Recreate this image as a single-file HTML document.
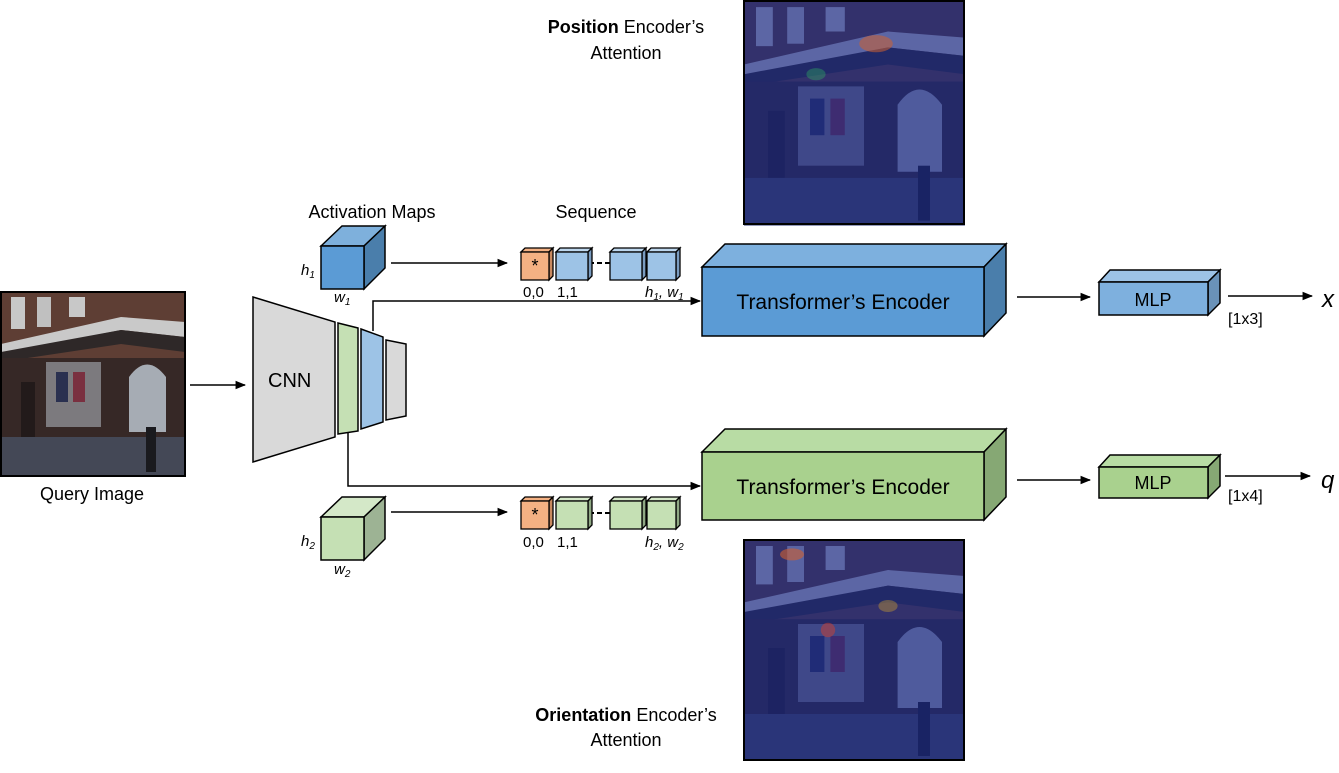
<!DOCTYPE html>
<html><head><meta charset="utf-8"><style>
html,body{margin:0;padding:0;background:#fff}
svg text{font-family:"Liberation Sans",sans-serif;}
</style></head><body>
<svg width="1339" height="768" viewBox="0 0 1339 768" xmlns="http://www.w3.org/2000/svg">
<defs>
<marker id="ah" viewBox="0 0 10 10" refX="9" refY="5" markerWidth="7" markerHeight="7" orient="auto"><path d="M0,1 L10,5 L0,9 z" fill="#000"/></marker>
<g id="shop">
<rect x="0" y="0" width="184" height="184" fill="#5e3e34"/>
<rect x="10" y="5" width="14" height="32" fill="#c8c8c8"/><rect x="36" y="5" width="14" height="30" fill="#c0c0c0"/><rect x="68" y="5" width="16" height="20" fill="#c8c8c8"/>
<polygon points="0,52 120,25 184,30 184,45 120,38 0,62" fill="#c9c9c9"/>
<polygon points="0,60 120,38 184,45 184,60 120,52 0,70" fill="#2e2828"/>
<rect x="0" y="66" width="184" height="84" fill="#362826"/>
<rect x="45" y="70" width="55" height="65" fill="#7c7a7e"/>
<rect x="55" y="80" width="12" height="30" fill="#2a3050"/><rect x="72" y="80" width="12" height="30" fill="#7a3040"/>
<path d="M128,140 L128,85 Q146,60 165,85 L165,140 z" fill="#a6acb4"/>
<rect x="20" y="90" width="14" height="55" fill="#221a1a"/>
<rect x="0" y="145" width="184" height="39" fill="#444856"/>
<rect x="145" y="135" width="10" height="45" fill="#1a1a1e"/>
</g>
</defs>

<g transform="translate(1,292)"><use href="#shop"/><rect x="0" y="0" width="184" height="184" fill="none" stroke="#000" stroke-width="2"/></g>
<text x="92" y="500" font-size="18" text-anchor="middle">Query Image</text>
<line x1="190" y1="385" x2="245" y2="385" stroke="#000" stroke-width="1.5" marker-end="url(#ah)"/>

<g transform="translate(744,1) scale(1.2,1.22)"><use href="#shop"/><rect width="184" height="184" fill="#1a2a90" opacity="0.62"/>
<ellipse cx="110" cy="35" rx="14" ry="7" fill="#d06030" opacity="0.55"/><ellipse cx="60" cy="60" rx="8" ry="5" fill="#30c060" opacity="0.35"/></g>
<rect x="744" y="1" width="220" height="223" fill="none" stroke="#000" stroke-width="2"/>
<text x="626" y="33" font-size="18" text-anchor="middle"><tspan font-weight="bold">Position</tspan> Encoder’s</text>
<text x="626" y="59" font-size="18" text-anchor="middle">Attention</text>

<g transform="translate(744,540) scale(1.2,1.2)"><use href="#shop"/><rect width="184" height="184" fill="#1a2a90" opacity="0.62"/>
<ellipse cx="40" cy="12" rx="10" ry="5" fill="#d06030" opacity="0.6"/><ellipse cx="70" cy="75" rx="6" ry="6" fill="#d04030" opacity="0.5"/><ellipse cx="120" cy="55" rx="8" ry="5" fill="#d0a030" opacity="0.4"/></g>
<rect x="744" y="540" width="220" height="220" fill="none" stroke="#000" stroke-width="2"/>
<text x="626" y="721" font-size="18" text-anchor="middle"><tspan font-weight="bold">Orientation</tspan> Encoder’s</text>
<text x="626" y="746" font-size="18" text-anchor="middle">Attention</text>

<g stroke="#000" stroke-width="1.5">
<polygon points="253,297 335,322 335,437 253,462" fill="#d9d9d9"/>
<polygon points="338,323 358,328 358,431 338,434" fill="#c5e0b4"/>
<polygon points="361,329 383,337 383,422 361,429" fill="#9dc3e6"/>
<polygon points="386,340 406,344 406,416 386,420" fill="#d9d9d9"/>
</g>
<text x="268" y="387" font-size="20">CNN</text>
<polyline points="373,331 373,301 700,301" fill="none" stroke="#000" stroke-width="1.5" marker-end="url(#ah)"/>
<polyline points="348,433 348,486 700,486" fill="none" stroke="#000" stroke-width="1.5" marker-end="url(#ah)"/>

<text x="372" y="218" font-size="18" text-anchor="middle">Activation Maps</text>
<text x="596" y="218" font-size="18" text-anchor="middle">Sequence</text>
<g stroke="#000" stroke-width="1.5">
<polygon points="321,246 342,226 385,226 364,246" fill="#7eb0dc"/>
<polygon points="364,246 385,226 385,268 364,289" fill="#4a7eab"/>
<rect x="321" y="246" width="43" height="43" fill="#5b9bd5"/>
<polygon points="321,517 342,497 385,497 364,517" fill="#d4e8c8"/>
<polygon points="364,517 385,497 385,539 364,560" fill="#9db394"/>
<rect x="321" y="517" width="43" height="43" fill="#c5e0b4"/>
</g>
<text x="301" y="275" font-size="15" font-style="italic" font-family="Liberation Serif">h<tspan font-size="10" dy="3">1</tspan></text>
<text x="334" y="302" font-size="15" font-style="italic" font-family="Liberation Serif">w<tspan font-size="10" dy="3">1</tspan></text>
<text x="301" y="546" font-size="15" font-style="italic" font-family="Liberation Serif">h<tspan font-size="10" dy="3">2</tspan></text>
<text x="334" y="574" font-size="15" font-style="italic" font-family="Liberation Serif">w<tspan font-size="10" dy="3">2</tspan></text>
<line x1="391" y1="263" x2="507" y2="263" stroke="#000" stroke-width="1.5" marker-end="url(#ah)"/>
<line x1="391" y1="512" x2="507" y2="512" stroke="#000" stroke-width="1.5" marker-end="url(#ah)"/>

<g stroke="#000" stroke-width="1.3">
<line x1="589" y1="263" x2="610" y2="263" stroke-dasharray="5,3" stroke-width="2"/>
<polygon points="521,252 525,248 553,248 549,252" fill="#f4b183"/><polygon points="549,252 553,248 553,276 549,280" fill="#c98a60"/><rect x="521" y="252" width="28" height="28" fill="#f4b183"/>
<polygon points="556,252 560,248 592,248 588,252" fill="#bdd7ee"/><polygon points="588,252 592,248 592,276 588,280" fill="#7a9cc0"/><rect x="556" y="252" width="32" height="28" fill="#9dc3e6"/>
<polygon points="610,252 614,248 646,248 642,252" fill="#bdd7ee"/><polygon points="642,252 646,248 646,276 642,280" fill="#7a9cc0"/><rect x="610" y="252" width="32" height="28" fill="#9dc3e6"/>
<polygon points="647,252 651,248 680,248 676,252" fill="#bdd7ee"/><polygon points="676,252 680,248 680,276 676,280" fill="#7a9cc0"/><rect x="647" y="252" width="29" height="28" fill="#9dc3e6"/>

<line x1="589" y1="513" x2="610" y2="513" stroke-dasharray="5,3" stroke-width="2"/>
<polygon points="521,501 525,497 553,497 549,501" fill="#f4b183"/><polygon points="549,501 553,497 553,525 549,529" fill="#c98a60"/><rect x="521" y="501" width="28" height="28" fill="#f4b183"/>
<polygon points="556,501 560,497 592,497 588,501" fill="#d4e8c8"/><polygon points="588,501 592,497 592,525 588,529" fill="#8fa884"/><rect x="556" y="501" width="32" height="28" fill="#c5e0b4"/>
<polygon points="610,501 614,497 646,497 642,501" fill="#d4e8c8"/><polygon points="642,501 646,497 646,525 642,529" fill="#8fa884"/><rect x="610" y="501" width="32" height="28" fill="#c5e0b4"/>
<polygon points="647,501 651,497 680,497 676,501" fill="#d4e8c8"/><polygon points="676,501 680,497 680,525 676,529" fill="#8fa884"/><rect x="647" y="501" width="29" height="28" fill="#c5e0b4"/>
</g>
<text x="535" y="272" font-size="18" text-anchor="middle">*</text>
<text x="535" y="521" font-size="18" text-anchor="middle">*</text>
<g font-family="Liberation Serif" font-size="15">
<text x="523" y="297">0,0</text><text x="557" y="297">1,1</text>
<text x="645" y="297" font-style="italic">h<tspan font-size="10" dy="3">1</tspan><tspan dy="-3">, w</tspan><tspan font-size="10" dy="3">1</tspan></text>
<text x="523" y="547">0,0</text><text x="557" y="547">1,1</text>
<text x="645" y="547" font-style="italic">h<tspan font-size="10" dy="3">2</tspan><tspan dy="-3">, w</tspan><tspan font-size="10" dy="3">2</tspan></text>
</g>

<g stroke="#000" stroke-width="1.5">
<polygon points="702,267 725,244 1006,244 984,267" fill="#7db0de"/>
<polygon points="984,267 1006,244 1006,313 984,336" fill="#4a7eab"/>
<rect x="702" y="267" width="282" height="69" fill="#5b9bd5"/>
<polygon points="702,452 725,429 1006,429 984,452" fill="#b8dca4"/>
<polygon points="984,452 1006,429 1006,497 984,520" fill="#86a874"/>
<rect x="702" y="452" width="282" height="68" fill="#a9d18e"/>
</g>
<text x="843" y="309" font-size="21" text-anchor="middle">Transformer’s Encoder</text>
<text x="843" y="494" font-size="21" text-anchor="middle">Transformer’s Encoder</text>
<line x1="1017" y1="297" x2="1090" y2="297" stroke="#000" stroke-width="1.5" marker-end="url(#ah)"/>
<line x1="1017" y1="480" x2="1090" y2="480" stroke="#000" stroke-width="1.5" marker-end="url(#ah)"/>

<g stroke="#000" stroke-width="1.5">
<polygon points="1099,282 1110,270 1220,270 1208,282" fill="#9dc3e6"/>
<polygon points="1208,282 1220,270 1220,303 1208,315" fill="#6a92b8"/>
<rect x="1099" y="282" width="109" height="33" fill="#7eb0de"/>
<polygon points="1099,467 1110,455 1220,455 1208,467" fill="#b8dca4"/>
<polygon points="1208,467 1220,455 1220,486 1208,498" fill="#86a874"/>
<rect x="1099" y="467" width="109" height="31" fill="#a9d18e"/>
</g>
<text x="1153" y="306" font-size="18" text-anchor="middle">MLP</text>
<text x="1153" y="489" font-size="18" text-anchor="middle">MLP</text>
<line x1="1228" y1="296" x2="1312" y2="296" stroke="#000" stroke-width="1.5" marker-end="url(#ah)"/>
<line x1="1225" y1="476" x2="1310" y2="476" stroke="#000" stroke-width="1.5" marker-end="url(#ah)"/>
<text x="1228" y="324" font-size="16">[1x3]</text>
<text x="1228" y="501" font-size="16">[1x4]</text>
<text x="1322" y="307" font-size="24" font-style="italic" font-family="Liberation Serif">x</text>
<text x="1321" y="488" font-size="24" font-style="italic" font-family="Liberation Serif">q</text>
</svg>
</body></html>
